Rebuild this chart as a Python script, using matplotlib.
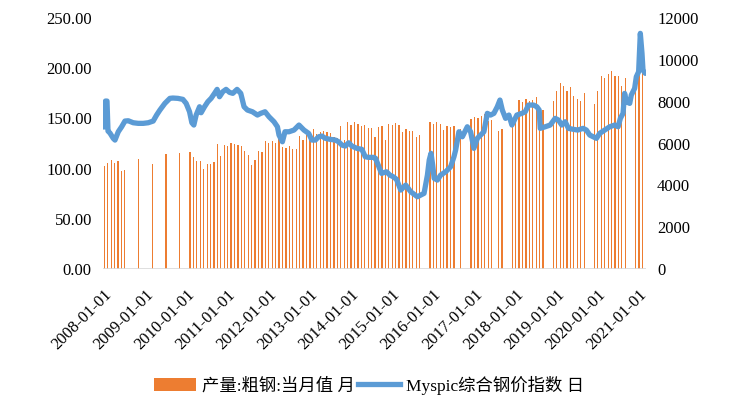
import pandas as pd
import numpy as np
import matplotlib.pyplot as plt
from matplotlib.patches import Patch
from matplotlib.lines import Line2D

plt.rcParams['font.family'] = ['Liberation Serif', 'Noto Sans CJK SC']

# 产量:粗钢:当月值 (月)
bar_dates = [
    "2008-04", "2008-05", "2008-06", "2008-07", "2008-08", "2008-09", "2008-10",
    "2009-02", "2009-06", "2009-10",
    "2010-02", "2010-05", "2010-06", "2010-07", "2010-08", "2010-09", "2010-10", "2010-11", "2010-12",
    "2011-01", "2011-02", "2011-03", "2011-04", "2011-05", "2011-06", "2011-07", "2011-08", "2011-09", "2011-10", "2011-11", "2011-12",
    "2012-01", "2012-02", "2012-03", "2012-04", "2012-05", "2012-06", "2012-07", "2012-08", "2012-09", "2012-10", "2012-11", "2012-12",
    "2013-01", "2013-02", "2013-03", "2013-04", "2013-05", "2013-06", "2013-07", "2013-08", "2013-09", "2013-10", "2013-11", "2013-12",
    "2014-01", "2014-02", "2014-03", "2014-04", "2014-05", "2014-06", "2014-07", "2014-08", "2014-09", "2014-10", "2014-11", "2014-12",
    "2015-01", "2015-02", "2015-03", "2015-04", "2015-05", "2015-06", "2015-07", "2015-08", "2015-09", "2015-10", "2015-11", "2015-12",
    "2016-03", "2016-04", "2016-05", "2016-06", "2016-07", "2016-08", "2016-09", "2016-10", "2016-12",
    "2017-03", "2017-04", "2017-05", "2017-06", "2017-07", "2017-08", "2017-09", "2017-11", "2017-12",
    "2018-03", "2018-04", "2018-05", "2018-06", "2018-07", "2018-08", "2018-09", "2018-10", "2018-11", "2018-12",
    "2019-03", "2019-04", "2019-05", "2019-06", "2019-07", "2019-08", "2019-09", "2019-10", "2019-11", "2019-12",
    "2020-03", "2020-04", "2020-05", "2020-06", "2020-07", "2020-08", "2020-09", "2020-10", "2020-11", "2020-12",
    "2021-03", "2021-04", "2021-05",
]
bar_values = [
    102.6, 105.6, 108.6, 105.6, 107.6, 97.6, 98.6,
    109.6, 104.6, 114.5,
    115.5, 116.5, 111.6, 107.6, 107.6, 99.6, 104.6, 104.6, 106.6,
    124.5, 112.5, 123.5, 122.5, 125.5, 124.5, 123.5, 122.5, 117.5, 113.5, 103.6, 108.6,
    117.5, 116.5, 127.5, 125.5, 127.5, 125.5, 129.5, 121.5, 120.5, 122.5, 119.5, 119.5,
    132.5, 128.5, 133.5, 133.5, 139.4, 134.5, 136.5, 137.5, 136.5, 135.5, 131.5, 130.5,
    142.4, 128.5, 146.4, 143.4, 146.4, 144.4, 142.4, 143.4, 140.4, 140.4, 131.5, 141.4,
    142.4, 128.5, 144.4, 143.4, 145.4, 143.4, 136.5, 139.4, 137.5, 137.5, 131.5, 133.5,
    146.4, 144.4, 146.4, 144.4, 138.4, 142.4, 141.4, 142.4, 139.4,
    149.4, 151.4, 150.4, 152.4, 154.4, 147.4, 148.4, 137.5, 139.4,
    146.0, 155.0, 168.3, 166.3, 169.3, 167.3, 168.3, 171.3, 161.4, 158.4,
    167.3, 177.3, 185.3, 182.3, 177.3, 181.3, 172.3, 169.3, 167.3, 175.3,
    164.3, 177.3, 192.2, 190.2, 194.2, 197.2, 192.2, 192.2, 182.3, 190.2,
    188.2, 198.2, 198.2,
]

# Myspic综合钢价指数 (日), 时间以小数年份记
price_t = [
    2008.243, 2008.279, 2008.316, 2008.340, 2008.388, 2008.468, 2008.510, 2008.590, 2008.672, 2008.752,
    2008.833, 2008.954, 2009.075, 2009.197, 2009.318, 2009.439, 2009.522, 2009.602, 2009.723, 2009.845,
    2009.917, 2010.039, 2010.160, 2010.240, 2010.323, 2010.379, 2010.427, 2010.483, 2010.566, 2010.604,
    2010.687, 2010.767, 2010.847, 2010.930, 2010.993, 2011.051, 2011.131, 2011.211, 2011.294, 2011.374,
    2011.478, 2011.568, 2011.648, 2011.730, 2011.852, 2011.973, 2012.053, 2012.158, 2012.255, 2012.376,
    2012.459, 2012.498, 2012.580, 2012.643, 2012.740, 2012.862, 2012.983, 2013.104, 2013.218, 2013.298,
    2013.381, 2013.461, 2013.541, 2013.624, 2013.745, 2013.867, 2013.947, 2014.027, 2014.110, 2014.190,
    2014.270, 2014.391, 2014.512, 2014.595, 2014.675, 2014.796, 2014.845, 2014.910, 2014.990, 2015.112,
    2015.192, 2015.275, 2015.355, 2015.458, 2015.579, 2015.700, 2015.863, 2015.943, 2016.024, 2016.106,
    2016.150, 2016.193, 2016.234, 2016.270, 2016.348, 2016.428, 2016.550, 2016.671, 2016.751, 2016.792,
    2016.872, 2016.955, 2017.076, 2017.156, 2017.236, 2017.319, 2017.399, 2017.479, 2017.562, 2017.642,
    2017.722, 2017.805, 2017.869, 2017.927, 2018.006, 2018.087, 2018.160, 2018.280, 2018.402, 2018.484,
    2018.564, 2018.686, 2018.766, 2018.824, 2018.848, 2018.970, 2019.091, 2019.212, 2019.292, 2019.372,
    2019.455, 2019.535, 2019.657, 2019.760, 2019.891, 2019.971, 2020.052, 2020.135, 2020.215, 2020.295,
    2020.416, 2020.538, 2020.659, 2020.742, 2020.797, 2020.862, 2020.900, 2020.943, 2021.024, 2021.063,
    2021.144, 2021.185, 2021.241, 2021.282, 2021.323, 2021.347, 2021.403,
]
price_v = [
    6789, 8032, 8032, 6598, 6502, 6249, 6167, 6564, 6803, 7076,
    7090, 6995, 6966, 6966, 6995, 7076, 7363, 7602, 7922, 8161,
    8176, 8161, 8113, 7922, 7520, 6995, 6885, 7363, 7760, 7473,
    7760, 7999, 8161, 8400, 8591, 8238, 8477, 8591, 8448, 8400,
    8591, 8400, 7760, 7602, 7520, 7363, 7444, 7520, 7281, 7042,
    6803, 6407, 6086, 6564, 6564, 6646, 6885, 6646, 6488, 6167,
    6167, 6325, 6359, 6249, 6201, 6167, 6086, 5928, 5881, 6038,
    5881, 5771, 5723, 5369, 5340, 5340, 5293, 4972, 4575, 4652,
    4494, 4413, 4289, 3777, 4016, 3696, 3457, 3538, 3619, 4494,
    5211, 5532, 4972, 4336, 4255, 4494, 4652, 4891, 5369, 5689,
    6564, 6325, 6803, 6564, 5771, 6249, 6407, 6564, 7444, 7363,
    7444, 7760, 8080, 7602, 7205, 7363, 6885, 7363, 7444, 7520,
    7841, 7841, 7760, 7602, 6727, 6803, 6885, 7205, 7124, 6885,
    7042, 6727, 6679, 6646, 6727, 6646, 6407, 6325, 6249, 6488,
    6646, 6803, 6885, 6803, 7205, 7444, 8400, 7999, 7922, 8319,
    8639, 9194, 9433, 11269, 10313, 9514, 9356,
]

year_labels = ["2008-01-01", "2009-01-01", "2010-01-01", "2011-01-01", "2012-01-01",
               "2013-01-01", "2014-01-01", "2015-01-01", "2016-01-01", "2017-01-01",
               "2018-01-01", "2019-01-01", "2020-01-01", "2021-01-01"]

bd = pd.to_datetime(bar_dates)
bar_t = bd.year + (bd.month - 1) / 12

fig = plt.figure(figsize=(7.35, 4.04), dpi=100)
ax = fig.add_axes([0.1401, 0.334, 0.7388, 0.6213])
ax2 = ax.twinx()

ax.bar(bar_t, bar_values, width=0.03, color="#ED7D31", linewidth=0, zorder=2)
ax2.plot(price_t, price_v, color="#5B9BD5", linewidth=3.8, solid_joinstyle="round",
         solid_capstyle="round")

ax.set_xlim(2008.218, 2021.420)
ax.set_ylim(0, 250)
ax2.set_ylim(0, 12000)
ax.set_yticks(np.arange(0, 251, 50))
ax.set_yticklabels([f"{v:.2f}" for v in np.arange(0, 251, 50)])
ax2.set_yticks(np.arange(0, 12001, 2000))

for a in (ax, ax2):
    for s in a.spines.values():
        s.set_visible(False)
    a.tick_params(length=0, labelsize=12, pad=8)
ax.axhline(0, color="#d9d9d9", linewidth=1.2, zorder=3)

# 日期标签 (45度斜排)
ax.set_xticks([])
for i, lab in enumerate(year_labels):
    ax.text(2008 + i + 0.52, -0.07, lab, transform=ax.get_xaxis_transform(),
            rotation=45, ha="right", va="top", fontsize=12)

handles = [Patch(facecolor="#ED7D31", edgecolor="none"),
           Line2D([], [], color="#5B9BD5", linewidth=3.8)]
fig.legend(handles, ["产量:粗钢:当月值 月", "Myspic综合钢价指数 日"],
           loc="center", bbox_to_anchor=(0.502, 0.047), ncol=2, frameon=False,
           fontsize=12.5, handlelength=2.4, handletextpad=0.35, columnspacing=0.2)

fig.savefig("out.png", dpi=100)
